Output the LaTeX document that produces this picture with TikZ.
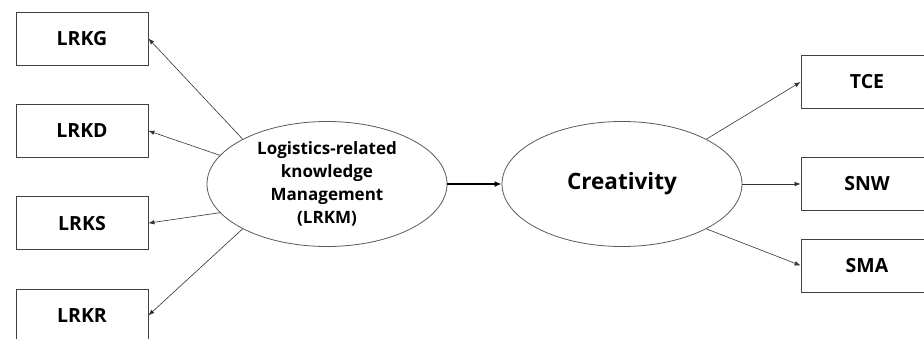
\documentclass[tikz,border=0pt]{standalone}
\usepackage{fontspec}
\setmainfont{Open Sans}
\usetikzlibrary{shapes.geometric, arrows.meta, positioning}

\begin{document}
\begin{tikzpicture}[
    x=1pt, y=-1pt,
    box/.style={rectangle, draw=black!75, line width=0.8pt, fill=white,
                minimum width=132pt, minimum height=53pt, font=\fontsize{19.5}{22}\selectfont\bfseries},
    oval/.style={ellipse, draw=black!65, line width=0.8pt, align=center, inner sep=0pt,
                 minimum width=240pt, minimum height=125pt},
    arrow/.style={-{Latex[length=6pt,width=4.5pt]}, black!80, line width=0.6pt}
]
\useasboundingbox (0,0) rectangle (924,338);

% constructs
\node[oval, font=\fontsize{17}{23}\selectfont\bfseries] (lrkm) at (327,184)
    {Logistics-related\\knowledge\\Management\\(LRKM)};
\node[oval, font=\fontsize{22.5}{24}\selectfont\bfseries] (crea) at (622,184) {Creativity};

% left indicators
\node[box] (lrkg) at (82,38.5) {LRKG};
\node[box, below=38.5pt of lrkg] (lrkd) {LRKD};
\node[box, below=38.5pt of lrkd] (lrks) {LRKS};
\node[box, below=38.5pt of lrks] (lrkr) {LRKR};

% right indicators
\node[box] (tce) at (867,82) {TCE};
\node[box] (snw) at (867,184) {SNW};
\node[box] (sma) at (867,265.5) {SMA};

\draw[arrow] (lrkm.152) -- (lrkg.east);
\draw[arrow] (lrkm.165) -- (lrkd.east);
\draw[arrow] (lrkm.195) -- (lrks.east);
\draw[arrow] (lrkm.208) -- (lrkr.east);
\draw[-{Latex[length=7pt,width=6pt]}, line width=2pt] (lrkm) -- (crea);
\draw[arrow] (crea.28) -- (tce.west);
\draw[arrow] (crea) -- (snw.west);
\draw[arrow] (crea.332) -- (sma.west);
\end{tikzpicture}
\end{document}
